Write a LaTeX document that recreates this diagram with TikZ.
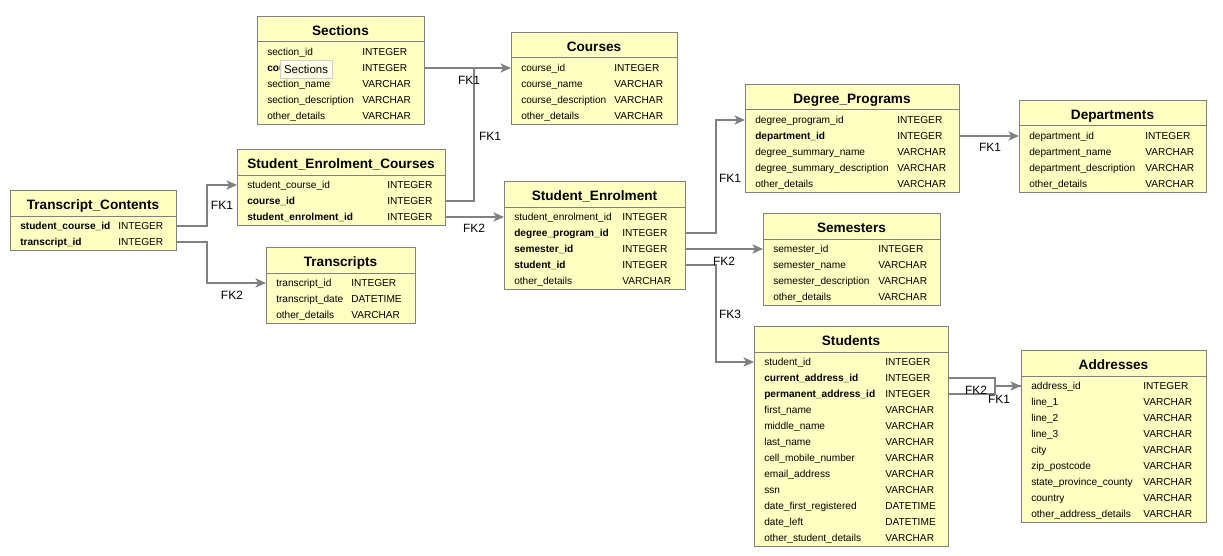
\documentclass[tikz,border=0pt]{standalone}
\usepackage{fontspec}
\setmainfont{Liberation Sans}
\usetikzlibrary{arrows.meta,calc}
\definecolor{tblfill}{RGB}{255,255,194}
\definecolor{tblborder}{RGB}{128,128,128}
\definecolor{fkcolor}{RGB}{128,128,128}
\definecolor{tipfill}{RGB}{255,255,232}
\definecolor{tipborder}{RGB}{205,205,205}
\tikzset{
  tblbox/.style={draw=tblborder, fill=tblfill, line width=0.75pt, inner sep=0pt, rectangle},
  tblsep/.style={draw=tblborder, line width=0.75pt},
  tbltitle/.style={inner sep=0pt, text height=7.2pt, text depth=0pt, font=\fontsize{10.2}{12}\selectfont\bfseries},
  rowtext/.style={inner sep=0pt, anchor=west, text height=5.2pt, text depth=0pt, font=\fontsize{7.6}{9}\selectfont},
  fk/.style={draw=fkcolor, line width=0.8pt, -{Stealth[length=8pt, width=7pt, inset=2.2pt, fill=fkcolor]}},
  fkplain/.style={draw=fkcolor, line width=0.8pt},
  fklabel/.style={inner sep=0pt, text height=6.5pt, text depth=0pt, font=\fontsize{9}{11}\selectfont},
  tipbox/.style={draw=tipborder, fill=tipfill, line width=0.6pt, inner sep=0pt, minimum width=39pt, minimum height=14pt, text height=6pt, text depth=0pt, font=\fontsize{8.6}{10}\selectfont}
}
% id x y width typex nrows title rows
\newcommand\mktable[8]{%
  \node[tblbox, minimum width={#4*0.75pt}, minimum height={(28+16*#6)*0.75pt}, anchor=north west] (#1) at (#2,#3) {};
  \draw[tblsep] (#2,#3+26) -- (#2+#4,#3+26);
  \node[tbltitle] (#1-title) at (#2+#4/2,#3+14.5) {#7};
  \foreach \n/\t/\f [count=\i] in {#8} {
    \node[rowtext] (#1-\i) at (#2+10, #3+20+16*\i) {\f\n};
    \node[rowtext] (#1-\i-t) at (#2+#5, #3+20+16*\i) {\t};
  }%
}
\begin{document}
\begin{tikzpicture}[x=0.75pt,y=-0.75pt]
\useasboundingbox (0,0) rectangle (1223,556);

\mktable{sec}{257}{16}{167}{105}{5}{Sections}{section\_id/INTEGER/\mdseries, course\_id/INTEGER/\bfseries, section\_name/VARCHAR/\mdseries, section\_description/VARCHAR/\mdseries, other\_details/VARCHAR/\mdseries}

\mktable{crs}{511}{32}{166}{103}{4}{Courses}{course\_id/INTEGER/\mdseries, course\_name/VARCHAR/\mdseries, course\_description/VARCHAR/\mdseries, other\_details/VARCHAR/\mdseries}

\mktable{sc}{237}{149}{208}{150}{3}{Student\_Enrolment\_Courses}{student\_course\_id/INTEGER/\mdseries, course\_id/INTEGER/\bfseries, student\_enrolment\_id/INTEGER/\bfseries}

\mktable{tc}{10}{190}{166}{108}{2}{Transcript\_Contents}{student\_course\_id/INTEGER/\bfseries, transcript\_id/INTEGER/\bfseries}

\mktable{tr}{266}{247}{149}{85}{3}{Transcripts}{transcript\_id/INTEGER/\mdseries, transcript\_date/DATETIME/\mdseries, other\_details/VARCHAR/\mdseries}

\mktable{se}{504}{181}{181}{118}{5}{Student\_Enrolment}{student\_enrolment\_id/INTEGER/\mdseries, degree\_program\_id/INTEGER/\bfseries, semester\_id/INTEGER/\bfseries, student\_id/INTEGER/\bfseries, other\_details/VARCHAR/\mdseries}

\mktable{dp}{745}{84}{214}{152}{5}{Degree\_Programs}{degree\_program\_id/INTEGER/\mdseries, department\_id/INTEGER/\bfseries, degree\_summary\_name/VARCHAR/\mdseries, degree\_summary\_description/VARCHAR/\mdseries, other\_details/VARCHAR/\mdseries}

\mktable{dep}{1019}{100}{187}{126}{4}{Departments}{department\_id/INTEGER/\mdseries, department\_name/VARCHAR/\mdseries, department\_description/VARCHAR/\mdseries, other\_details/VARCHAR/\mdseries}

\mktable{sem}{763}{213}{177}{115}{4}{Semesters}{semester\_id/INTEGER/\mdseries, semester\_name/VARCHAR/\mdseries, semester\_description/VARCHAR/\mdseries, other\_details/VARCHAR/\mdseries}

\mktable{stu}{754}{326}{194}{131}{12}{Students}{student\_id/INTEGER/\mdseries, current\_address\_id/INTEGER/\bfseries, permanent\_address\_id/INTEGER/\bfseries, first\_name/VARCHAR/\mdseries, middle\_name/VARCHAR/\mdseries, last\_name/VARCHAR/\mdseries, cell\_mobile\_number/VARCHAR/\mdseries, email\_address/VARCHAR/\mdseries, ssn/VARCHAR/\mdseries, date\_first\_registered/DATETIME/\mdseries, date\_left/DATETIME/\mdseries, other\_student\_details/VARCHAR/\mdseries}

\mktable{adr}{1021}{350}{185}{122}{9}{Addresses}{address\_id/INTEGER/\mdseries, line\_1/VARCHAR/\mdseries, line\_2/VARCHAR/\mdseries, line\_3/VARCHAR/\mdseries, city/VARCHAR/\mdseries, zip\_postcode/VARCHAR/\mdseries, state\_province\_county/VARCHAR/\mdseries, country/VARCHAR/\mdseries, other\_address\_details/VARCHAR/\mdseries}

% connectors
\coordinate (j1) at (474,68);
\draw[fk] (sec-2 -| sec.east) -- (crs-1 -| crs.west);
\draw[fkplain] (sc-2 -| sc.east) -| (j1);
\draw[fk] (sc-3 -| sc.east) -- (se-1 -| se.west);
\draw[fk] (tc-1 -| tc.east) -- ++(30,0) |- (sc-1 -| sc.west);
\draw[fk] (tc-2 -| tc.east) -- ++(30,0) |- (tr-1 -| tr.west);
\draw[fk] (se-2 -| se.east) -- ++(30,0) |- (dp-1 -| dp.west);
\draw[fk] (se-3 -| se.east) -- (sem-1 -| sem.west);
\draw[fk] (se-4 -| se.east) -- ++(30,0) |- (stu-1 -| stu.west);
\draw[fk] (dp-2 -| dp.east) -- (dep-1 -| dep.west);
\draw[fk] (stu-2 -| stu.east) -- ++(46,0) |- (adr-1 -| adr.west);
\draw[fkplain] (stu-3 -| stu.east) -- ++(46,0) |- (adr-1 -| adr.west);

% labels
\node[fklabel] (l1) at (469,80) {FK1};
\node[fklabel] (l2) at (490,136) {FK1};
\node[fklabel] (l3) at (474,228) {FK2};
\node[fklabel] (l4) at (222,205) {FK1};
\node[fklabel] (l5) at (232,295) {FK2};
\node[fklabel] (l6) at (730,178) {FK1};
\node[fklabel] (l7) at (724,261) {FK2};
\node[fklabel] (l8) at (730,314) {FK3};
\node[fklabel] (l9) at (990,147) {FK1};
\node[fklabel] (l10) at (976,390) {FK2};
\node[fklabel] (l11) at (999,399) {FK1};

% tooltip (covers most of the course_id row, as in the reference)
\node[tipbox] (tip) at (306,69.5) {Sections};
\end{tikzpicture}
\end{document}
